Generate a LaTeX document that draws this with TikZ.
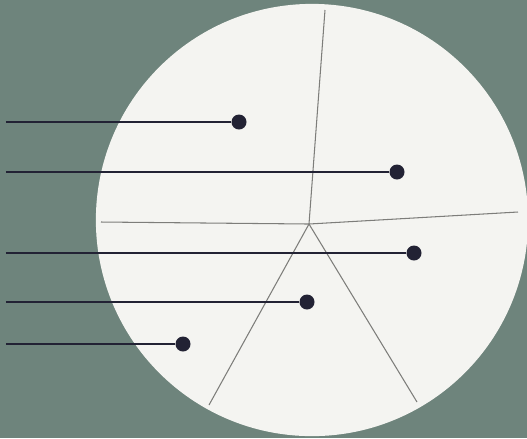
\documentclass[tikz,border=0pt]{standalone}
\usetikzlibrary{positioning}
\definecolor{bgteal}{RGB}{110,132,124}
\definecolor{disc}{RGB}{244,244,241}
\definecolor{leadblue}{RGB}{34,34,52}
\definecolor{seamgray}{RGB}{125,125,122}

\begin{document}
\begin{tikzpicture}[x=0.01cm, y=-0.01cm,
    dot/.style={circle, fill=leadblue, inner sep=0pt, minimum size=0.15cm},
    lead/.style={draw=leadblue, line width=0.7pt},
    seam/.style={draw=seamgray, line width=0.3pt}
]
\useasboundingbox (0,0) rectangle (527,438);
\clip (0,0) rectangle (527,438);
\fill[bgteal] (0,0) rectangle (527,438);
\fill[disc] (312,220) circle[radius=2.16cm];

% seams of the disc
\coordinate (hub) at (309,224);
\coordinate (top) at (325,10);
\coordinate (lft) at (101,222);
\coordinate (rgt) at (518,212);
\coordinate (bl) at (209,405);
\coordinate (br) at (417,402);
\draw[seam] (hub) -- (top);
\draw[seam] (hub) -- (lft);
\draw[seam] (hub) -- (rgt);
\draw[seam] (hub) -- (bl);
\draw[seam] (hub) -- (br);

% pointers
\node[dot] (d1) at (239,122) {};
\node[dot] (d2) at (397,172) {};
\node[dot] (d3) at (414,253) {};
\node[dot] (d4) at (307,302) {};
\node[dot] (d5) at (183,344) {};
\coordinate (s1) at (6,122);
\coordinate (s2) at (6,172);
\coordinate (s3) at (6,253);
\coordinate (s4) at (6,302);
\coordinate (s5) at (6,344);
\draw[lead] (s1) -- (d1);
\draw[lead] (s2) -- (d2);
\draw[lead] (s3) -- (d3);
\draw[lead] (s4) -- (d4);
\draw[lead] (s5) -- (d5);
\end{tikzpicture}
\end{document}
